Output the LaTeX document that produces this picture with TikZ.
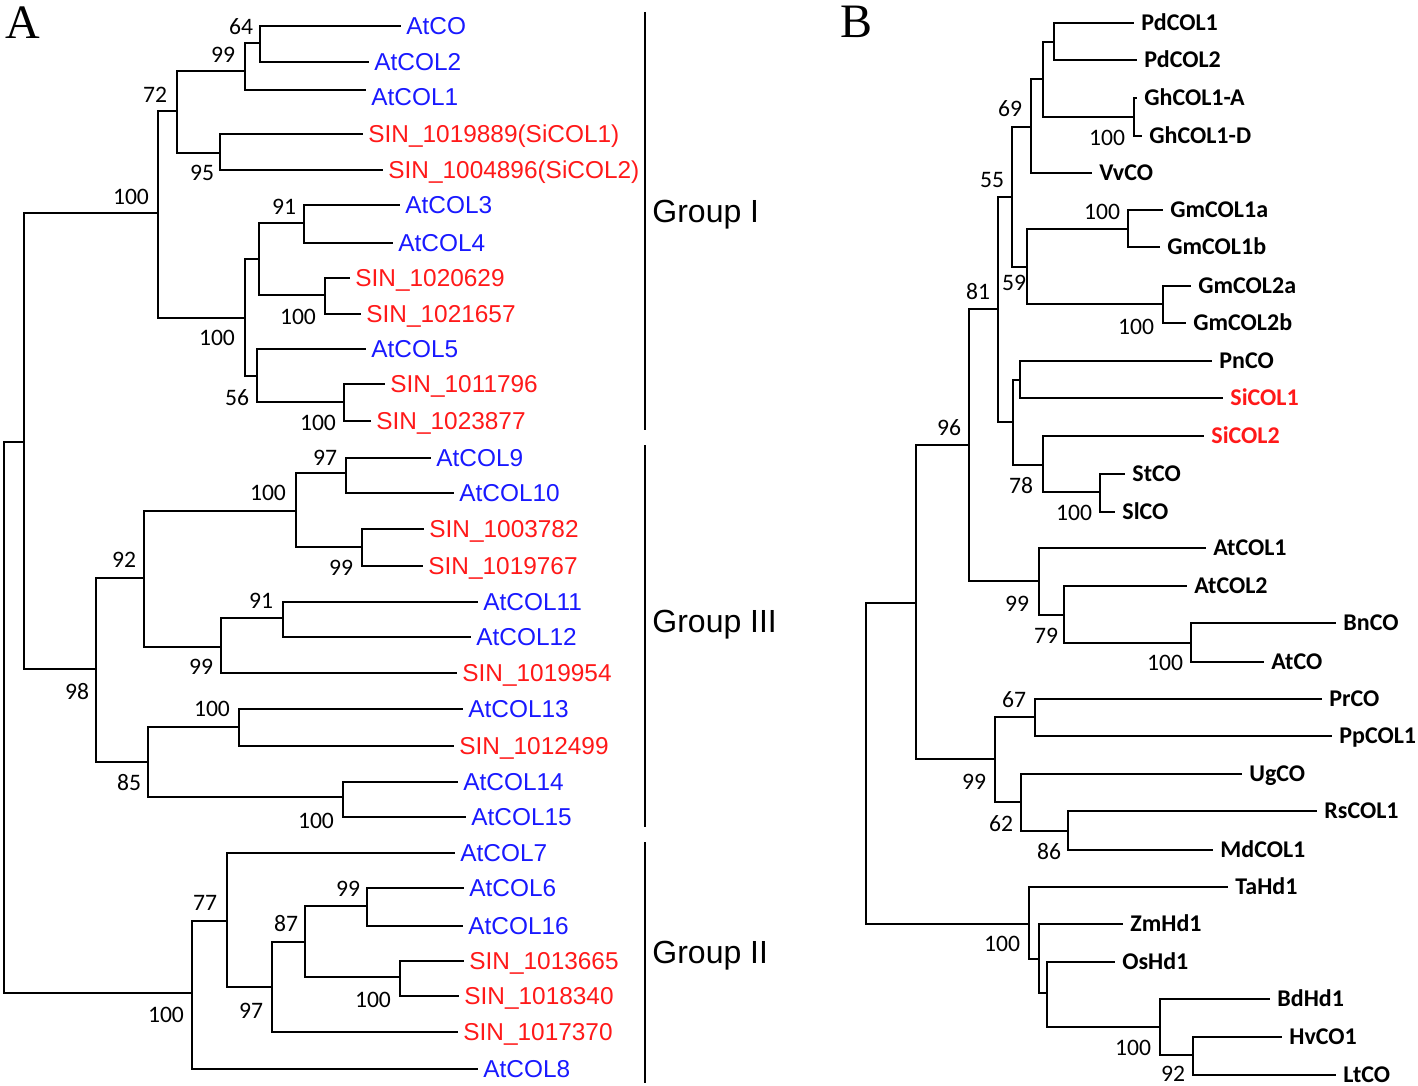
\documentclass[tikz,border=0pt]{standalone}
\usepackage{fontspec}
\setmainfont{Liberation Sans}
\newfontfamily\carl{Carlito}
\newfontfamily\serifA{Liberation Serif}
\definecolor{tblue}{RGB}{25,25,255}
\definecolor{tred}{RGB}{255,25,25}
\newcommand\mkleaf[5]{\coordinate (#1) at (#2,#3); \node[#4] (#1t) at (#1) {#5};}
\newcommand\mkclade[5]{\coordinate (#1) at (#2,#3); \draw[tree] (#4) -| (#1) |- (#5);}
\begin{document}
\begin{tikzpicture}[x=0.5pt,y=-0.5pt,
 tree/.style={line width=1.45pt, line cap=rect, line join=miter},
 grp/.style={line width=1.1pt},
 la/.style={anchor=base west, inner sep=0pt, xshift=3pt, yshift=-4.35pt, font=\fontsize{12.2}{14}\selectfont},
 atl/.style={la, text=tblue},
 sil/.style={la, text=tred},
 lb/.style={anchor=base west, inner sep=0pt, xshift=4pt, yshift=-3.8pt, font=\carl\bfseries\fontsize{12}{14}\selectfont},
 lbr/.style={lb, text=tred},
 bs/.style={inner sep=0pt, font=\carl\fontsize{11.8}{14}\selectfont},
 gl/.style={anchor=west, inner sep=0pt, font=\fontsize{16}{19}\selectfont},
 pl/.style={inner sep=0pt, font=\serifA\fontsize{24}{28}\selectfont},
]
\useasboundingbox (0,0) rectangle (1418,1086);
% ---------------- Panel A ----------------
\node[pl] (PA) at (23,23) {A};
\mkleaf{A1}{400}{26}{atl}{AtCO}
\mkleaf{A2}{368}{62}{atl}{AtCOL2}
\coordinate (A3) at (365,90); \node[atl, yshift=-3.5pt] (A3t) at (A3) {AtCOL1};
\mkleaf{A4}{362}{134}{sil}{SIN\_1019889(SiCOL1)}
\mkleaf{A5}{382}{170}{sil}{SIN\_1004896(SiCOL2)}
\mkleaf{A6}{399}{205}{atl}{AtCOL3}
\mkleaf{A7}{392}{243}{atl}{AtCOL4}
\mkleaf{A8}{349}{278}{sil}{SIN\_1020629}
\mkleaf{A9}{360}{314}{sil}{SIN\_1021657}
\mkleaf{A10}{365}{349}{atl}{AtCOL5}
\mkleaf{A11}{384}{384}{sil}{SIN\_1011796}
\mkleaf{A12}{370}{421}{sil}{SIN\_1023877}
\mkleaf{A13}{430}{458}{atl}{AtCOL9}
\mkleaf{A14}{453}{493}{atl}{AtCOL10}
\mkleaf{A15}{423}{529}{sil}{SIN\_1003782}
\mkleaf{A16}{422}{566}{sil}{SIN\_1019767}
\mkleaf{A17}{477}{602}{atl}{AtCOL11}
\mkleaf{A18}{470}{637}{atl}{AtCOL12}
\mkleaf{A19}{456}{673}{sil}{SIN\_1019954}
\mkleaf{A20}{462}{709}{atl}{AtCOL13}
\mkleaf{A21}{453}{746}{sil}{SIN\_1012499}
\mkleaf{A22}{457}{782}{atl}{AtCOL14}
\mkleaf{A23}{465}{817}{atl}{AtCOL15}
\mkleaf{A24}{454}{853}{atl}{AtCOL7}
\mkleaf{A25}{463}{888}{atl}{AtCOL6}
\mkleaf{A26}{462}{926}{atl}{AtCOL16}
\mkleaf{A27}{463}{961}{sil}{SIN\_1013665}
\mkleaf{A28}{458}{996}{sil}{SIN\_1018340}
\mkleaf{A29}{457}{1032}{sil}{SIN\_1017370}
\mkleaf{A30}{477}{1069}{atl}{AtCOL8}
\mkclade{a64}{260}{43}{A1}{A2}
\mkclade{a99}{245}{71}{a64}{A3}
\mkclade{a95}{220}{153}{A4}{A5}
\mkclade{a72}{177}{111}{a99}{a95}
\mkclade{a91}{304}{223}{A6}{A7}
\mkclade{a100b}{325}{295}{A8}{A9}
\mkclade{aU1}{259}{259}{a91}{a100b}
\mkclade{a100d}{344}{402}{A11}{A12}
\mkclade{a56}{257}{376}{A10}{a100d}
\mkclade{a100c}{245}{318}{aU1}{a56}
\mkclade{a100a}{158}{213}{a72}{a100c}
\mkclade{a97}{346}{473}{A13}{A14}
\mkclade{a99b}{362}{547}{A15}{A16}
\mkclade{a100e}{296}{511}{a97}{a99b}
\mkclade{a91b}{283}{618}{A17}{A18}
\mkclade{a99c}{221}{647}{a91b}{A19}
\mkclade{a92}{144}{578}{a100e}{a99c}
\mkclade{a100f}{239}{727}{A20}{A21}
\mkclade{a100g}{343}{797}{A22}{A23}
\mkclade{a85}{148}{762}{a100f}{a100g}
\mkclade{a98}{96}{669}{a92}{a85}
\mkclade{aR1}{24}{442}{a100a}{a98}
\mkclade{a99d}{367}{906}{A25}{A26}
\mkclade{a100h}{400}{977}{A27}{A28}
\mkclade{a87}{305}{942}{a99d}{a100h}
\mkclade{a97b}{272}{987}{a87}{A29}
\mkclade{a77}{227}{921}{A24}{a97b}
\mkclade{a100i}{192}{993}{a77}{A30}
\mkclade{aroot}{4}{720}{aR1}{a100i}
% bootstrap values A
\node[bs] (sa1) at (241,27) {64};
\node[bs] (sa2) at (223,55) {99};
\node[bs] (sa3) at (155,95) {72};
\node[bs] (sa4) at (202,173) {95};
\node[bs] (sa5) at (131,197) {100};
\node[bs] (sa6) at (284,207) {91};
\node[bs] (sa7) at (298,317) {100};
\node[bs] (sa8) at (217,338) {100};
\node[bs] (sa9) at (237,398) {56};
\node[bs] (sa10) at (318,423) {100};
\node[bs] (sa11) at (325,458) {97};
\node[bs] (sa12) at (268,493) {100};
\node[bs] (sa13) at (341,568) {99};
\node[bs] (sa14) at (124,560) {92};
\node[bs] (sa15) at (261,601) {91};
\node[bs] (sa16) at (201,667) {99};
\node[bs] (sa17) at (77,692) {98};
\node[bs] (sa18) at (212,709) {100};
\node[bs] (sa19) at (129,783) {85};
\node[bs] (sa20) at (316,821) {100};
\node[bs] (sa21) at (205,903) {77};
\node[bs] (sa22) at (348,889) {99};
\node[bs] (sa23) at (286,924) {87};
\node[bs] (sa24) at (251,1011) {97};
\node[bs] (sa25) at (373,1000) {100};
\node[bs] (sa26) at (166,1015) {100};
% groups
\coordinate (g1a) at (645,12); \coordinate (g1b) at (645,430);
\draw[grp] (g1a) -- (g1b);
\node[gl] (G1) at (652,215) {Group I};
\coordinate (g3a) at (645,445); \coordinate (g3b) at (645,827);
\draw[grp] (g3a) -- (g3b);
\node[gl] (G3) at (652,625) {Group III};
\coordinate (g2a) at (645,842); \coordinate (g2b) at (645,1083);
\draw[grp] (g2a) -- (g2b);
\node[gl] (G2) at (652,956) {Group II};
% ---------------- Panel B ----------------
\node[pl] (PB) at (856,22) {B};
\mkleaf{B1}{1133}{23}{lb}{PdCOL1}
\mkleaf{B2}{1136}{60}{lb}{PdCOL2}
\mkleaf{B3}{1136}{98}{lb}{GhCOL1-A}
\mkleaf{B4}{1141}{136}{lb}{GhCOL1-D}
\mkleaf{B5}{1091}{173}{lb}{VvCO}
\mkleaf{B6}{1162}{210}{lb}{GmCOL1a}
\mkleaf{B7}{1159}{247}{lb}{GmCOL1b}
\mkleaf{B8}{1190}{286}{lb}{GmCOL2a}
\mkleaf{B9}{1185}{323}{lb}{GmCOL2b}
\mkleaf{B10}{1211}{361}{lb}{PnCO}
\mkleaf{B11}{1222}{398}{lbr}{SiCOL1}
\mkleaf{B12}{1203}{436}{lbr}{SiCOL2}
\mkleaf{B13}{1124}{474}{lb}{StCO}
\mkleaf{B14}{1114}{512}{lb}{SlCO}
\mkleaf{B15}{1205}{548}{lb}{AtCOL1}
\mkleaf{B16}{1186}{586}{lb}{AtCOL2}
\mkleaf{B17}{1335}{623}{lb}{BnCO}
\mkleaf{B18}{1263}{662}{lb}{AtCO}
\mkleaf{B19}{1321}{699}{lb}{PrCO}
\mkleaf{B20}{1331}{736}{lb}{PpCOL1}
\mkleaf{B21}{1241}{774}{lb}{UgCO}
\mkleaf{B22}{1316}{811}{lb}{RsCOL1}
\mkleaf{B23}{1212}{850}{lb}{MdCOL1}
\mkleaf{B24}{1227}{887}{lb}{TaHd1}
\mkleaf{B25}{1122}{924}{lb}{ZmHd1}
\mkleaf{B26}{1114}{962}{lb}{OsHd1}
\mkleaf{B27}{1269}{999}{lb}{BdHd1}
\mkleaf{B28}{1281}{1037}{lb}{HvCO1}
\mkleaf{B29}{1335}{1075}{lb}{LtCO}
\mkclade{bPd}{1054}{42}{B1}{B2}
\mkclade{bGh}{1134}{117}{B3}{B4}
\mkclade{bU1}{1043}{79}{bPd}{bGh}
\mkclade{b69}{1031}{127}{bU1}{B5}
\mkclade{bGm1}{1128}{229}{B6}{B7}
\mkclade{bGm2}{1163}{304}{B8}{B9}
\mkclade{b59}{1027}{267}{bGm1}{bGm2}
\mkclade{b55}{1012}{197}{b69}{b59}
\mkclade{bPn}{1020}{380}{B10}{B11}
\mkclade{bSt}{1100}{492}{B13}{B14}
\mkclade{b78}{1043}{465}{B12}{bSt}
\mkclade{bU2}{1013}{422}{bPn}{b78}
\mkclade{b81}{998}{309}{b55}{bU2}
\mkclade{bBn}{1191}{643}{B17}{B18}
\mkclade{b79}{1064}{615}{B16}{bBn}
\mkclade{b99}{1039}{581}{B15}{b79}
\mkclade{b96}{969}{445}{b81}{b99}
\mkclade{b67}{1035}{717}{B19}{B20}
\mkclade{b86}{1068}{831}{B22}{B23}
\mkclade{b62}{1021}{802}{B21}{b86}
\mkclade{b99b}{995}{759}{b67}{b62}
\mkclade{bU3}{916}{603}{b96}{b99b}
\mkclade{b92}{1193}{1055}{B28}{B29}
\mkclade{b100m}{1160}{1027}{B27}{b92}
\mkclade{bOs}{1047}{993}{B26}{b100m}
\mkclade{bZm}{1039}{959}{B25}{bOs}
\mkclade{b100}{1029}{924}{B24}{bZm}
\mkclade{broot}{866}{760}{bU3}{b100}
% bootstrap values B
\node[bs] (sb1) at (1010,109) {69};
\node[bs] (sb2) at (992,180) {55};
\node[bs] (sb3) at (1107,138) {100};
\node[bs] (sb4) at (1102,212) {100};
\node[bs] (sb5) at (1014,283) {59};
\node[bs] (sb6) at (978,292) {81};
\node[bs] (sb7) at (1136,327) {100};
\node[bs] (sb8) at (949,428) {96};
\node[bs] (sb9) at (1021,486) {78};
\node[bs] (sb10) at (1074,513) {100};
\node[bs] (sb11) at (1017,604) {99};
\node[bs] (sb12) at (1046,636) {79};
\node[bs] (sb13) at (1165,663) {100};
\node[bs] (sb14) at (1014,700) {67};
\node[bs] (sb15) at (974,782) {99};
\node[bs] (sb16) at (1001,824) {62};
\node[bs] (sb17) at (1049,852) {86};
\node[bs] (sb18) at (1002,944) {100};
\node[bs] (sb19) at (1133,1048) {100};
\node[bs] (sb20) at (1173,1074) {92};
\end{tikzpicture}
\end{document}
